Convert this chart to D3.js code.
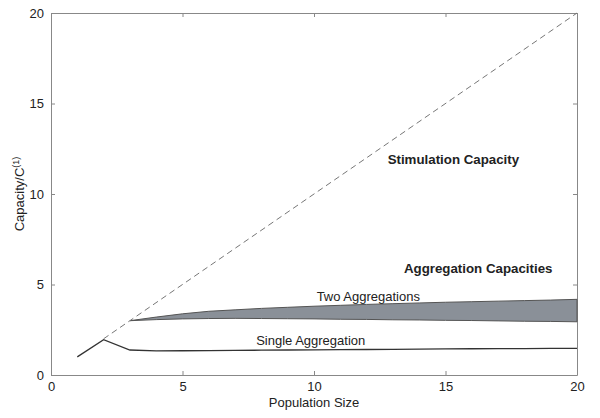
<!DOCTYPE html>
<meta charset="utf-8">
<script src="https://d3js.org/d3.v7.min.js"></script>
<style>
  body { margin: 0; background: #fff; }
  text { font-family: "Liberation Sans", Arial, sans-serif; fill: #222; }
</style>
<svg id="chart" width="600" height="418"></svg>
<script>

// population sizes and capacities
var popSingle = [1, 2, 3, 4, 5, 6, 7, 8, 9, 10, 11, 12, 13, 14, 15, 16, 17, 18, 19, 20];
var singleAgg = [1.0, 1.95, 1.38, 1.33, 1.34, 1.35, 1.36, 1.37, 1.38, 1.39, 1.40, 1.41, 1.42, 1.43, 1.44, 1.45, 1.46, 1.46, 1.47, 1.47];

var popTwo = [3, 4, 5, 6, 7, 8, 9, 10, 11, 12, 13, 14, 15, 16, 17, 18, 19, 20];
var twoUpper = [3.0, 3.2, 3.38, 3.52, 3.6, 3.68, 3.74, 3.8, 3.85, 3.9, 3.94, 3.98, 4.02, 4.05, 4.08, 4.11, 4.14, 4.18];
var twoLower = [3.0, 3.06, 3.1, 3.12, 3.13, 3.12, 3.11, 3.1, 3.08, 3.07, 3.05, 3.04, 3.02, 3.01, 2.99, 2.97, 2.96, 2.94];

var stimPop = [2, 20];
var stimCap = [2, 20];

var xTicks = [0, 5, 10, 15, 20];
var yTicks = [0, 5, 10, 15, 20];

var margin = {top: 13, right: 23, bottom: 43, left: 51};
var width = 600 - margin.left - margin.right,
    height = 418 - margin.top - margin.bottom;

var svg = d3.select("#chart")
  .append("g")
  .attr("transform", "translate(" + margin.left + "," + margin.top + ")");

var x = d3.scaleLinear().domain([0, 20]).range([0, width]);
var y = d3.scaleLinear().domain([0, 20]).range([height, 0]);

// box axes with inward ticks
function styleAxis(g) {
  g.select(".domain").attr("stroke", "#888");
  g.selectAll(".tick line").attr("stroke", "#888");
  g.selectAll(".tick text").style("font-size", "13px").attr("fill", "#333")
    .style("font-family", "'Liberation Sans', Arial, sans-serif");
}

svg.append("g")
  .attr("transform", "translate(0," + height + ")")
  .call(d3.axisBottom(x).tickValues(xTicks).tickSizeInner(-4).tickSizeOuter(0).tickPadding(7))
  .call(styleAxis);
svg.append("g")
  .call(d3.axisLeft(y).tickValues(yTicks).tickSizeInner(-4).tickSizeOuter(0).tickPadding(7))
  .call(styleAxis);
svg.append("g")
  .call(d3.axisTop(x).tickValues(xTicks).tickSizeInner(-4).tickSizeOuter(0).tickFormat(""))
  .call(styleAxis);
svg.append("g")
  .attr("transform", "translate(" + width + ",0)")
  .call(d3.axisRight(y).tickValues(yTicks).tickSizeInner(-4).tickSizeOuter(0).tickFormat(""))
  .call(styleAxis);

// two aggregations band
var band = popTwo.map(function(p, i) { return {x: p, lo: twoLower[i], hi: twoUpper[i]}; });
svg.append("path")
  .datum(band)
  .attr("fill", "#8a9098")
  .attr("stroke", "#555")
  .attr("stroke-width", 1)
  .attr("d", d3.area()
    .x(function(d) { return x(d.x); })
    .y0(function(d) { return y(d.lo); })
    .y1(function(d) { return y(d.hi); }));

// stimulation capacity (dashed)
svg.append("path")
  .datum(stimPop.map(function(p, i) { return [p, stimCap[i]]; }))
  .attr("fill", "none")
  .attr("stroke", "#777")
  .attr("stroke-width", 1)
  .attr("stroke-dasharray", "6,4")
  .attr("d", d3.line()
    .x(function(d) { return x(d[0]); })
    .y(function(d) { return y(d[1]); }));

// single aggregation
svg.append("path")
  .datum(popSingle.map(function(p, i) { return [p, singleAgg[i]]; }))
  .attr("fill", "none")
  .attr("stroke", "#333")
  .attr("stroke-width", 1.3)
  .attr("d", d3.line()
    .x(function(d) { return x(d[0]); })
    .y(function(d) { return y(d[1]); }));

// annotations
svg.append("text").attr("x", x(12.8)).attr("y", y(11.65))
  .style("font-size", "13.3px").style("font-weight", "bold").text("Stimulation Capacity");
svg.append("text").attr("x", x(13.42)).attr("y", y(5.65))
  .style("font-size", "13.3px").style("font-weight", "bold").text("Aggregation Capacities");
svg.append("text").attr("x", x(10.1)).attr("y", y(4.1))
  .style("font-size", "13px").text("Two Aggregations");
svg.append("text").attr("x", x(7.8)).attr("y", y(1.65))
  .style("font-size", "13px").text("Single Aggregation");

// axis titles
svg.append("text")
  .attr("x", width / 2).attr("y", height + 32)
  .attr("text-anchor", "middle")
  .style("font-size", "13px")
  .text("Population Size");

var yt = svg.append("text")
  .attr("transform", "translate(-27," + (height / 2) + ") rotate(-90)")
  .attr("text-anchor", "middle")
  .style("font-size", "13px");
yt.append("tspan").text("Capacity/C");
yt.append("tspan").attr("dy", -5).style("font-size", "9px").text("(1)");

</script>
